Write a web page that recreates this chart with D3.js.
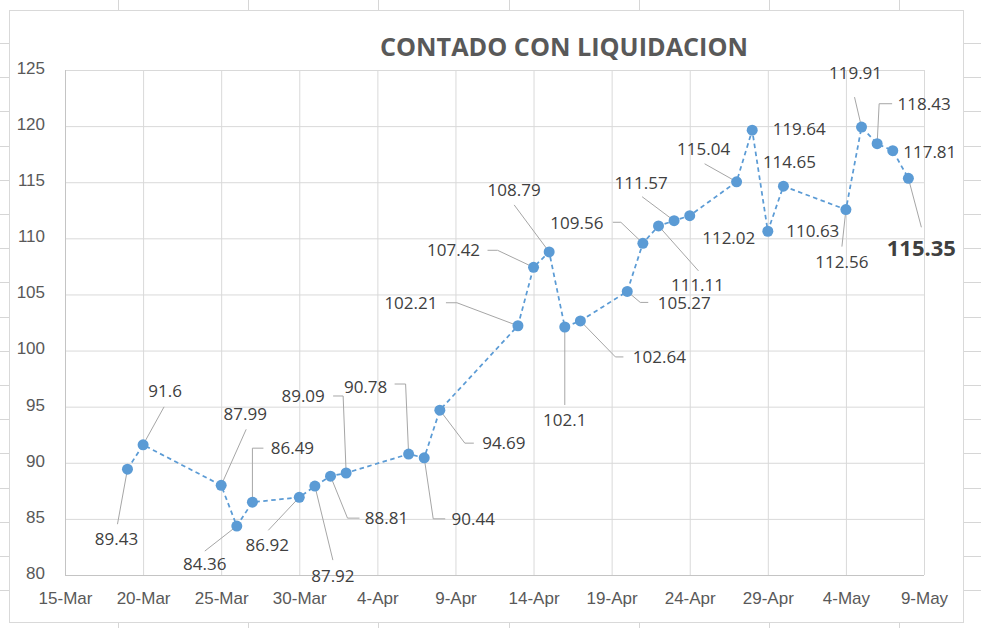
<!DOCTYPE html>
<html>
<head>
<meta charset="utf-8">
<script src="https://cdn.jsdelivr.net/npm/d3@7"></script>
<style>
  body { margin: 0; background: #ffffff; }
  svg { display: block; font-family: "Open Sans", "Noto Sans", sans-serif; }
  .tick text { fill: #595959; font-size: 17px; }
  .dataLabel { fill: #404040; font-size: 17px; }
</style>
</head>
<body>
<div id="chart"></div>
<script>
// chart data
var dates = ["2020-03-19", "2020-03-20", "2020-03-25", "2020-03-26", "2020-03-27", "2020-03-30",
    "2020-03-31", "2020-04-01", "2020-04-02", "2020-04-06", "2020-04-07", "2020-04-08",
    "2020-04-13", "2020-04-14", "2020-04-15", "2020-04-16", "2020-04-17", "2020-04-20",
    "2020-04-21", "2020-04-22", "2020-04-23", "2020-04-24", "2020-04-27", "2020-04-28",
    "2020-04-29", "2020-04-30", "2020-05-04", "2020-05-05", "2020-05-06", "2020-05-07",
    "2020-05-08"];
var values = [89.43, 91.6, 87.99, 84.36, 86.49, 86.92, 87.92, 88.81, 89.09, 90.78, 90.44, 94.69,
    102.21, 107.42, 108.79, 102.1, 102.64, 105.27, 109.56, 111.11, 111.57, 112.02, 115.04, 119.64,
    110.63, 114.65, 112.56, 119.91, 118.43, 117.81, 115.35];
var xTicks = ["2020-03-15", "2020-03-20", "2020-03-25", "2020-03-30", "2020-04-04", "2020-04-09",
    "2020-04-14", "2020-04-19", "2020-04-24", "2020-04-29", "2020-05-04", "2020-05-09"];
var yTicks = [80, 85, 90, 95, 100, 105, 110, 115, 120, 125];
var title = "CONTADO CON LIQUIDACION";

// where each data label sits relative to its point: [dx, dy, leader points]
var labelLayout = [
    [-11, 70, [[-10, 55]]],
    [22, -54, [[21, -38]]],
    [24, -71, [[25, -56]]],
    [-32, 38, [[-32, 25]]],
    [40, -54, [[0, -54], [11, -54]]],
    [-32, 48, [[-31, 33]]],
    [18, 90, [[18, 74]]],
    [56, 42, [[17, 42], [29, 42]]],
    [-43, -77, [[-3, -77], [-13, -77]]],
    [-43, -67, [[-3, -70], [-14, -70]]],
    [49, 61, [[9, 61], [21, 61]]],
    [64, 33, [[25, 33], [34, 33]]],
    [-107, -23, [[-61, -23], [-72, -23]]],
    [-80, -17, [[-36, -17], [-46, -17]]],
    [-35, -62, [[-35, -47]]],
    [0, 93, [[0, 78]]],
    [79, 36, [[35, 36], [43, 36]]],
    [57, 11, [[13, 11], [21, 11]]],
    [-66, -20, [[-22, -21], [-30, -21]]],
    [39, 59, [[40, 45]]],
    [-33, -38, [[-32, -24]]],
    [39, 22, null],
    [-33, -33, [[-32, -18]]],
    [47, -1, null],
    [45, 0, null],
    [6, -24, null],
    [-4, 52, [[-4, 37]]],
    [-6, -54, [[-7, -30]]],
    [47, -40, [[2, -40], [15, -40]]],
    [37, 1, null],
    [13, 70, [[13, 49]]]
];

var svgWidth = 981;
var svgHeight = 628;
var margin = { top: 70, right: 57, bottom: 53, left: 65 };
var width = svgWidth - margin.left - margin.right;
var height = svgHeight - margin.top - margin.bottom;

var parseDate = d3.timeParse("%Y-%m-%d");
var data = dates.map(function (d, i) {
    return { date: parseDate(d), value: values[i], layout: labelLayout[i] };
});

var svg = d3.select("#chart")
    .append("svg")
    .attr("width", svgWidth)
    .attr("height", svgHeight);

// spreadsheet cells behind the chart
var cellColor = "#d6d6d6";
var cellsGroup = svg.append("g").attr("stroke", cellColor).attr("stroke-width", 1);
d3.range(17).forEach(function (k) {
    var y = Math.round(43 + k * 34.2) + 0.5;
    cellsGroup.append("line").attr("x1", 0).attr("x2", 9).attr("y1", y).attr("y2", y);
    cellsGroup.append("line").attr("x1", 963).attr("x2", 981).attr("y1", y).attr("y2", y);
});
d3.range(7).forEach(function (k) {
    var x = Math.round(118 + k * 130.2) + 0.5;
    cellsGroup.append("line").attr("x1", x).attr("x2", x).attr("y1", 0).attr("y2", 10);
    cellsGroup.append("line").attr("x1", x).attr("x2", x).attr("y1", 622).attr("y2", 628);
});
svg.append("rect")
    .attr("x", 9.5).attr("y", 10.5)
    .attr("width", 954).attr("height", 612)
    .attr("fill", "#ffffff")
    .attr("stroke", "#d9d9d9");

var chartGroup = svg.append("g")
    .attr("transform", `translate(${margin.left}, ${margin.top})`);

var xScale = d3.scaleTime()
    .domain([parseDate(xTicks[0]), parseDate(xTicks[xTicks.length - 1])])
    .range([0, width]);

var yScale = d3.scaleLinear()
    .domain([yTicks[0], yTicks[yTicks.length - 1]])
    .range([height, 0]);

// gridlines
var xGrid = chartGroup.append("g")
    .attr("transform", `translate(0, ${height})`)
    .call(d3.axisBottom(xScale)
        .tickValues(xTicks.map(parseDate))
        .tickSize(-height)
        .tickFormat(d3.timeFormat("%-d-%b"))
        .tickPadding(14));
xGrid.select(".domain").remove();
xGrid.selectAll(".tick line").attr("stroke", "#d9d9d9");
xGrid.selectAll(".tick text").attr("dy", "0.9em");

var yGrid = chartGroup.append("g")
    .call(d3.axisLeft(yScale)
        .tickValues(yTicks)
        .tickSize(-width)
        .tickPadding(20));
yGrid.select(".domain").remove();
yGrid.selectAll(".tick line").attr("stroke", "#d9d9d9");
yGrid.selectAll(".tick text").attr("dy", "0.2em");

// axis lines
chartGroup.append("line")
    .attr("x1", 0).attr("x2", width)
    .attr("y1", height + 0.5).attr("y2", height + 0.5)
    .attr("stroke", "#c4c4c4");
chartGroup.append("line")
    .attr("x1", 0.5).attr("x2", 0.5)
    .attr("y1", 0).attr("y2", height)
    .attr("stroke", "#c4c4c4");

// title
svg.append("text")
    .attr("x", 380)
    .attr("y", 56)
    .attr("textLength", 368)
    .attr("lengthAdjust", "spacingAndGlyphs")
    .attr("fill", "#595959")
    .style("font-size", "25px")
    .style("font-weight", "bold")
    .text(title);

// leader lines
chartGroup.append("g")
    .attr("class", "leaders")
    .selectAll("polyline")
    .data(data.filter(d => d.layout[2]))
    .enter()
    .append("polyline")
    .attr("points", function (d) {
        var px = xScale(d.date), py = yScale(d.value);
        var pts = [[px, py]].concat(d.layout[2].map(p => [px + p[0], py + p[1]]));
        return pts.map(p => p.join(",")).join(" ");
    })
    .attr("fill", "none")
    .attr("stroke", "#a6a6a6")
    .attr("stroke-width", 1);

// dashed line
var line = d3.line()
    .x(d => xScale(d.date))
    .y(d => yScale(d.value));

chartGroup.append("path")
    .datum(data)
    .attr("d", line)
    .attr("fill", "none")
    .attr("stroke", "#5b9bd5")
    .attr("stroke-width", 1.75)
    .attr("stroke-dasharray", "4.5,3.5");

// markers
chartGroup.append("g")
    .attr("class", "markers")
    .selectAll("circle")
    .data(data)
    .enter()
    .append("circle")
    .attr("cx", d => xScale(d.date))
    .attr("cy", d => yScale(d.value))
    .attr("r", 5.5)
    .attr("fill", "#5b9bd5");

// data labels
var lastIndex = data.length - 1;
chartGroup.append("g")
    .selectAll("text")
    .data(data)
    .enter()
    .append("text")
    .attr("class", "dataLabel")
    .attr("x", d => xScale(d.date) + d.layout[0])
    .attr("y", d => yScale(d.value) + d.layout[1])
    .attr("dy", "0.36em")
    .attr("text-anchor", "middle")
    .style("font-size", (d, i) => i === lastIndex ? "22px" : null)
    .style("font-weight", (d, i) => i === lastIndex ? "bold" : null)
    .text(d => d.value);
</script>
</body>
</html>
